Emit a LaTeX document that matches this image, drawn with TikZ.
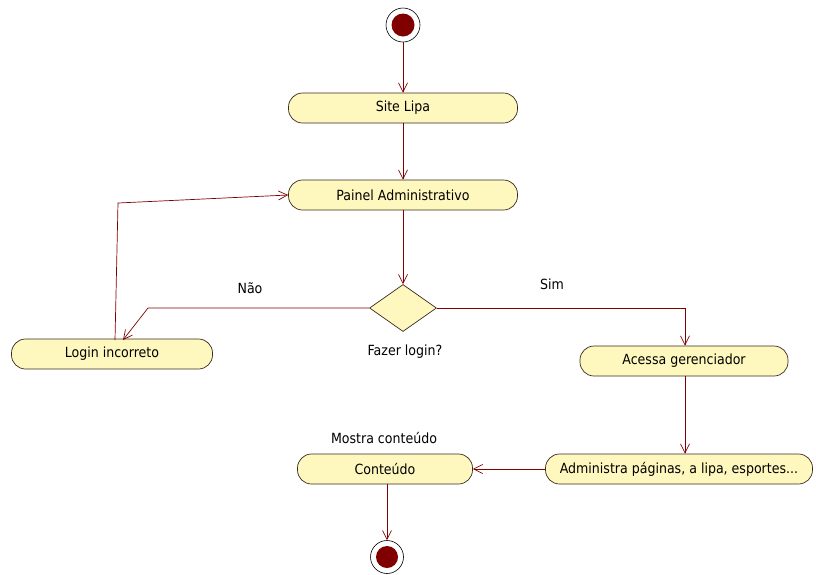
\documentclass[tikz,border=0pt]{standalone}
\usepackage{fontspec}
\setmainfont{DejaVu Sans Condensed}
\usetikzlibrary{shapes.geometric,arrows.meta}
\definecolor{flow}{HTML}{800000}
\definecolor{actfill}{HTML}{FFF8BE}
\definecolor{actline}{HTML}{3A2A20}
\tikzset{
  activity/.style={draw=actline, fill=actfill, rounded corners=14pt, line width=0.7pt,
    minimum height=30pt, inner sep=0pt, font=\fontsize{14}{16}\selectfont},
  decision/.style={draw=actline, fill=actfill, diamond, line width=0.7pt,
    minimum width=67pt, minimum height=47pt, inner sep=0pt, aspect=1.4},
  label/.style={font=\fontsize{14}{16}\selectfont, inner sep=0pt},
  flowline/.style={draw=flow, line width=0.7pt, -{Straight Barb[length=9pt,width=9pt]}},
}
\begin{document}
\begin{tikzpicture}[x=1pt,y=-1pt]
\useasboundingbox (0,0) rectangle (816,574);
% initial state
\node (start) [circle, draw=black, fill=white, line width=0.6pt, minimum size=34pt, inner sep=0pt] at (403,25) {};
\fill[flow] (start.center) circle (11.5pt);
% activities
\node (site)   [activity, minimum width=229pt] at (403,108) {Site Lipa};
\node (painel) [activity, minimum width=229pt] at (403,195) {Painel Administrativo};
\node (dec)    [decision] at (403,308) {};
\node (login)  [activity, minimum width=201pt] at (112,354) {Login incorreto};
\node (acessa) [activity, minimum width=208pt] at (684,361) {Acessa gerenciador};
\node (admin)  [activity, minimum width=267pt] at (679,469) {Administra páginas, a lipa, esportes...};
\node (cont)   [activity, minimum width=175pt] at (385,469) {Conteúdo};
% final state
\node (final) [circle, draw=black, fill=white, line width=0.6pt, minimum size=33pt, inner sep=0pt] at (387,557) {};
\fill[flow] (final.center) circle (11pt);
% texts
\node[label] (declbl) at (405,352) {Fazer login?};
\node[label] (nao) at (250,288) {Não};
\node[label] (sim) at (552,284) {Sim};
\node[label] (mostra) at (384,438) {Mostra conteúdo};
% flows
\draw[flowline] (start.south) -- (site.north);
\draw[flowline] (site.south) -- (painel.north);
\draw[flowline] (painel.south) -- (dec.north);
\coordinate (nbend) at (148,308);
\draw[flowline] (dec.west) -- (nbend) -- (123,340);
\coordinate (up1) at (118,203);
\draw[flowline] (115,340) -- (up1) -- (painel.west);
\coordinate (sbend) at (685,308);
\draw[flowline] (dec.east) -- (sbend) -- (acessa.north -| sbend);
\draw[flowline] (acessa.south -| sbend) -- (admin.north -| sbend);
\draw[flowline] (admin.west) -- (cont.east);
\draw[flowline] (cont.south -| final) -- (final.north);
\end{tikzpicture}
\end{document}
